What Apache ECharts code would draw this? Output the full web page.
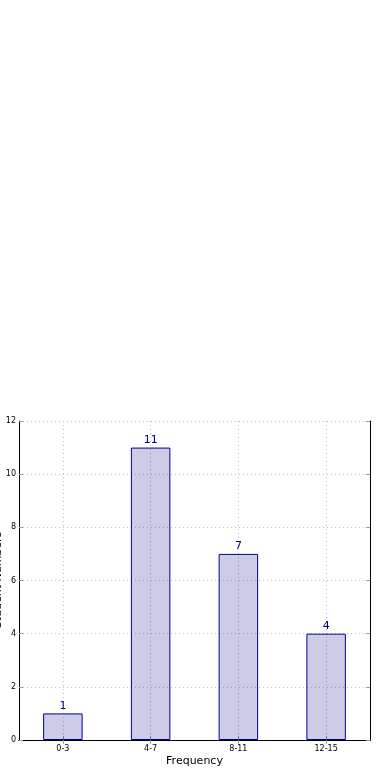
<!DOCTYPE html>
<html><head><meta charset="utf-8">
<script src="https://cdn.jsdelivr.net/npm/echarts@6/dist/echarts.min.js"></script>
<style>html,body{margin:0;padding:0;background:#fff}#c{width:390px;height:780px}</style>
</head><body><div id="c"></div>
<script>
const categories = ['0-3', '4-7', '8-11', '12-15'];
const counts = [1, 11, 7, 4];
const yTicks = { min: 0, max: 12, interval: 2 };
const xName = 'Frequency';
const yName = 'Student Numbers';

const chart = echarts.init(document.getElementById('c'), null, {renderer: 'canvas'});
const font = 'DejaVu Sans';
const gridDash = {color: '#bfbfbf', type: [1, 3], width: 1};
const tickStyle = {color: '#9a9a9a', width: 1};
chart.setOption({
  animation: false,
  grid: {left: 19, right: 20, top: 421, bottom: 40, containLabel: false, outerBoundsMode: 'none'},
  graphic: [{
    type: 'text', x: -2, y: 580, rotation: Math.PI / 2,
    style: {text: yName, fontFamily: font, fontSize: 11, fill: '#000', align: 'center', verticalAlign: 'middle'}
  }],
  xAxis: [{
    type: 'category', data: categories, position: 'bottom',
    name: xName, nameLocation: 'middle', nameGap: 16,
    nameTextStyle: {fontFamily: font, fontSize: 11, color: '#000'},
    axisLine: {show: true, lineStyle: {color: '#000', width: 1}},
    axisTick: {show: true, inside: true, length: 4, alignWithLabel: true, lineStyle: tickStyle},
    axisLabel: {fontFamily: font, fontSize: 8, color: '#000', margin: 5},
    splitLine: {show: true, alignWithLabel: true, lineStyle: gridDash}
  }, {
    type: 'category', data: categories, position: 'top',
    axisLine: {show: true, lineStyle: {color: '#000', width: 1}},
    axisTick: {show: true, inside: true, length: 4, alignWithLabel: true, lineStyle: tickStyle},
    axisLabel: {show: false}, splitLine: {show: false}
  }],
  yAxis: [{
    type: 'value', min: yTicks.min, max: yTicks.max, interval: yTicks.interval,
    axisLine: {show: true, lineStyle: {color: '#000', width: 1}},
    axisTick: {show: true, inside: true, length: 4, lineStyle: tickStyle},
    axisLabel: {fontFamily: font, fontSize: 8, color: '#000', margin: 3},
    splitLine: {show: true, lineStyle: gridDash}
  }, {
    type: 'value', min: yTicks.min, max: yTicks.max, interval: yTicks.interval, position: 'right',
    axisLine: {show: true, lineStyle: {color: '#000', width: 1}},
    axisTick: {show: true, inside: true, length: 4, lineStyle: tickStyle},
    axisLabel: {show: false}, splitLine: {show: false}
  }],
  series: [{
    type: 'bar', data: counts, barWidth: '45%', xAxisIndex: 0, yAxisIndex: 0,
    itemStyle: {color: 'rgba(0,0,128,0.2)', borderColor: '#00008b', borderWidth: 1},
    label: {show: true, position: 'top', distance: 2, fontFamily: font, fontSize: 11, color: '#000080'}
  }]
});
</script></body></html>
